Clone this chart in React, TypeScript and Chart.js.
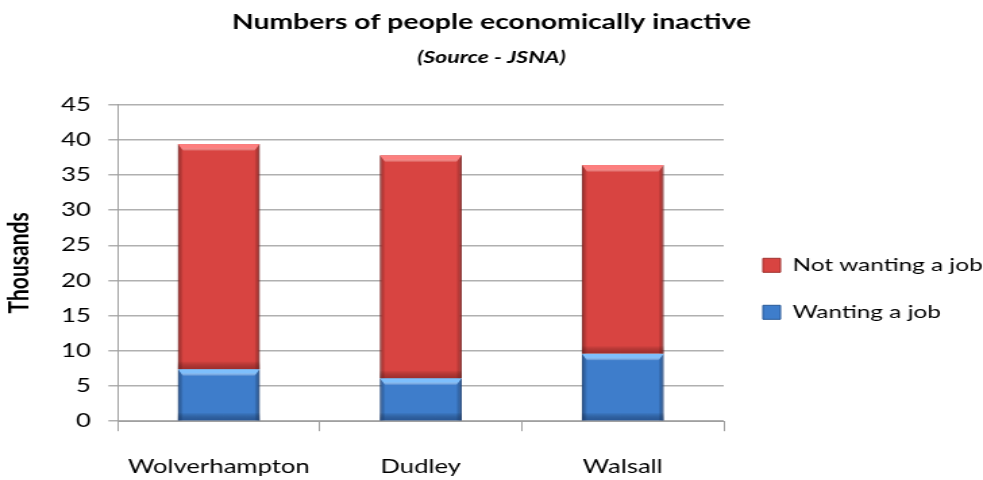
import React, { useEffect, useRef } from "react";
import { Chart, registerables } from "chart.js";

Chart.register(...registerables);

const categories = ["Wolverhampton", "Dudley", "Walsall"];
const wantingJob = [7.4, 6.1, 9.6];
const notWantingJob = [32.0, 31.7, 26.8];
const seriesNames = ["Wanting a job", "Not wanting a job"];
const titleText = "Numbers of people economically inactive";
const subtitleText = "(Source - JSNA)";
const yAxisTitle = "Thousands";

const FONT = "Lato, 'Open Sans', sans-serif";
const LOGICAL_W = 728;
const STRETCH = 983 / LOGICAL_W;

const bevelPlugin = {
  id: "bevel",
  afterDatasetsDraw(chart: any) {
    const ctx = chart.ctx;
    chart.data.datasets.forEach((ds: any, di: number) => {
      const meta = chart.getDatasetMeta(di);
      const light = di === 0 ? "rgba(130,195,255,0.95)" : "rgba(255,130,130,0.95)";
      const dark = di === 0 ? "rgba(20,50,100,0.5)" : "rgba(90,20,20,0.45)";
      meta.data.forEach((bar: any) => {
        const { x, y, base, width } = bar.getProps(["x", "y", "base", "width"], true);
        const l = x - width / 2;
        const r = x + width / 2;
        const t = Math.min(y, base);
        const b = Math.max(y, base);
        const e = 4;
        const h = 7;
        ctx.save();
        let g = ctx.createLinearGradient(0, t, 0, t + h);
        g.addColorStop(0, light);
        g.addColorStop(0.5, light);
        g.addColorStop(1, "rgba(255,255,255,0)");
        ctx.fillStyle = g;
        ctx.beginPath();
        ctx.moveTo(l, t);
        ctx.lineTo(r, t);
        ctx.lineTo(r - e, t + h);
        ctx.lineTo(l + e, t + h);
        ctx.closePath();
        ctx.fill();
        g = ctx.createLinearGradient(l, 0, l + e, 0);
        g.addColorStop(0, dark);
        g.addColorStop(1, "rgba(0,0,0,0)");
        ctx.fillStyle = g;
        ctx.beginPath();
        ctx.moveTo(l, t);
        ctx.lineTo(l + e, t + h);
        ctx.lineTo(l + e, b);
        ctx.lineTo(l, b);
        ctx.closePath();
        ctx.fill();
        g = ctx.createLinearGradient(r, 0, r - e, 0);
        g.addColorStop(0, dark);
        g.addColorStop(1, "rgba(0,0,0,0)");
        ctx.fillStyle = g;
        ctx.beginPath();
        ctx.moveTo(r, t);
        ctx.lineTo(r - e, t + h);
        ctx.lineTo(r - e, b);
        ctx.lineTo(r, b);
        ctx.closePath();
        ctx.fill();
        g = ctx.createLinearGradient(0, b, 0, b - 8);
        g.addColorStop(0, dark);
        g.addColorStop(1, "rgba(0,0,0,0)");
        ctx.fillStyle = g;
        ctx.fillRect(l, b - 8, width, 8);
        ctx.restore();
      });
    });
  },
};

export default function App() {
  const ref = useRef<HTMLCanvasElement | null>(null);
  useEffect(() => {
    document.body.style.margin = "0";
    const canvas = ref.current!;
    const chart = new Chart(canvas, {
      type: "bar",
      data: {
        labels: categories,
        datasets: [
          {
            label: seriesNames[0],
            data: wantingJob,
            backgroundColor: "#3E7DCB",
            borderColor: "#2A5A98",
            borderWidth: 1,
            barPercentage: 0.405,
            categoryPercentage: 1,
          },
          {
            label: seriesNames[1],
            data: notWantingJob,
            backgroundColor: "#D84441",
            borderColor: "#A03230",
            borderWidth: 1,
            barPercentage: 0.405,
            categoryPercentage: 1,
          },
        ],
      },
      options: {
        animation: false,
        responsive: false,
        maintainAspectRatio: false,
        layout: { padding: { left: 0, right: 0, top: 0, bottom: -22 } },
        plugins: {
          title: {
            display: true,
            text: titleText,
            color: "#000",
            font: { family: FONT, size: 21, weight: "bold" },
            padding: { top: 10, bottom: 12 },
          },
          subtitle: {
            display: true,
            text: subtitleText,
            color: "#000",
            font: { family: FONT, size: 17, weight: "bold", style: "italic" },
            padding: { top: 0, bottom: 37 },
          },
          legend: {
            position: "right",
            reverse: true,
            maxWidth: 192,
            title: { display: true, text: " ", padding: 27, font: { family: FONT, size: 18 } },
            labels: {
              boxWidth: 13,
              boxHeight: 14,
              padding: 29,
              color: "#000",
              font: { family: FONT, size: 18 },
            },
          },
          tooltip: { enabled: false },
        },
        scales: {
          x: {
            stacked: true,
            grid: {
              offset: true,
              drawOnChartArea: false,
              drawTicks: true,
              tickLength: 10,
              color: "#A0A0A0",
            },
            border: { color: "#A0A0A0" },
            ticks: {
              color: "#000",
              font: { family: FONT, size: 19 },
              padding: 24,
            },
          },
          y: {
            stacked: true,
            min: 0,
            max: 45,
            ticks: {
              stepSize: 5,
              color: "#000",
              font: { family: FONT, size: 19 },
              padding: 13,
            },
            grid: { color: "#B0B0B0", tickLength: 7, lineWidth: 1.5 },
            border: { color: "#A0A0A0" },
            title: {
              display: true,
              text: yAxisTitle,
              color: "#000",
              font: { family: FONT, size: 21, weight: "bold" },
              padding: { top: 2, bottom: 5 },
            },
          },
        },
      },
      plugins: [bevelPlugin],
    });
    return () => chart.destroy();
  }, []);
  return (
    <div style={{ position: "absolute", left: 0, top: 0, width: 983, height: 480, overflow: "hidden", background: "#fff" }}>
      <div style={{ width: LOGICAL_W, height: 480, transform: `scaleX(${STRETCH})`, transformOrigin: "0 0" }}>
        <canvas ref={ref} width={LOGICAL_W} height={480} style={{ width: LOGICAL_W, height: 480, display: "block" }} />
      </div>
    </div>
  );
}
